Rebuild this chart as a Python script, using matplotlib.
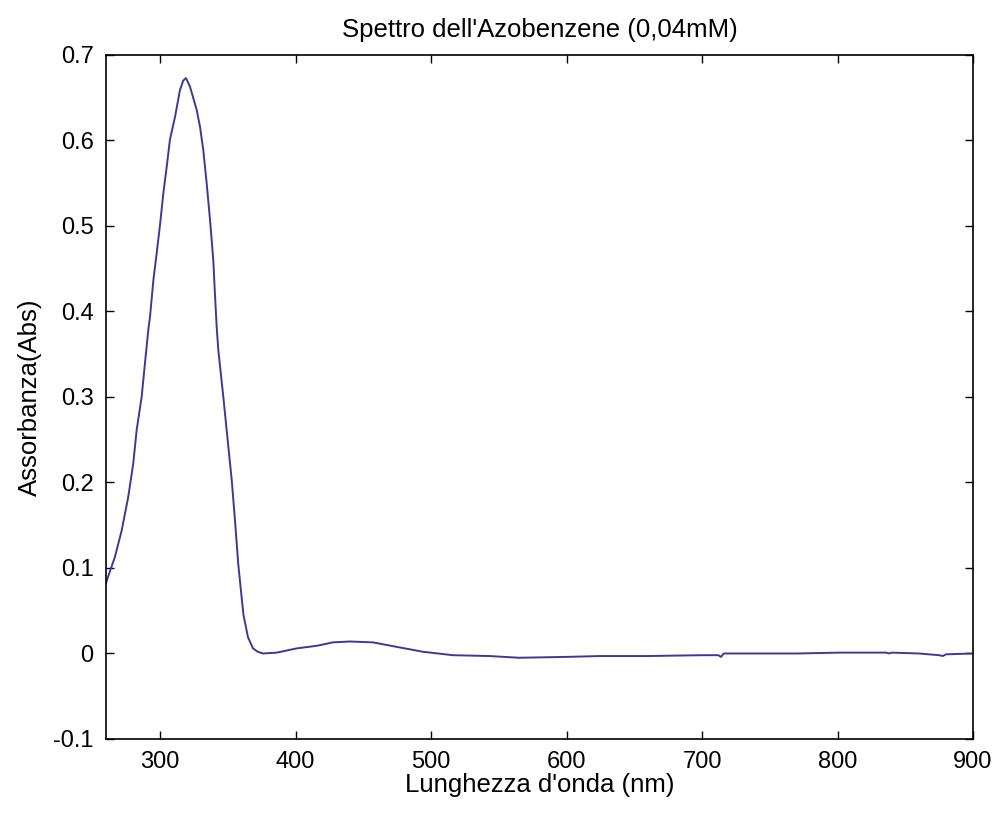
import matplotlib.pyplot as plt

# Absorbance spectrum
wavelength = [260, 260.5, 266.6, 271.6, 276.4, 280.1, 282.6, 286.3, 288.8, 291.2,
              292.5, 295, 297.4, 300, 302.3, 304.8, 307.2, 311, 314.6, 317, 319,
              322, 326.9, 329.4, 331.8, 334.3, 336.8, 339.2, 340.4, 341.7, 342.9,
              346.6, 350.3, 352.8, 355.2, 357.6, 360.1, 361.5, 364.8, 368.5, 372,
              375.9, 386, 401, 415.7, 427.5, 440, 457, 477, 494, 516, 543, 565,
              600, 624.6, 660, 700, 712, 714, 716, 740, 770, 801.7, 836, 838, 840,
              860, 875, 877.7, 880, 900]
absorbance = [0.082, 0.085, 0.113, 0.144, 0.183, 0.222, 0.261, 0.30, 0.34, 0.378,
              0.394, 0.437, 0.468, 0.503, 0.538, 0.569, 0.601, 0.628, 0.659, 0.670, 0.673,
              0.663, 0.636, 0.616, 0.589, 0.55, 0.507, 0.46, 0.421, 0.382, 0.355,
              0.30, 0.242, 0.203, 0.156, 0.105, 0.066, 0.045, 0.019, 0.006, 0.002,
              0.0, 0.001, 0.006, 0.009, 0.013, 0.014, 0.013, 0.007, 0.002, -0.002, -0.003, -0.005,
              -0.004, -0.003, -0.003, -0.002, -0.002, -0.004, 0.0, 0.0, 0.0, 0.001, 0.001, 0.0, 0.001,
              0.0, -0.002, -0.003, -0.001, 0.0]

x_ticks = [300, 400, 500, 600, 700, 800, 900]
y_ticks = [-0.1, 0, 0.1, 0.2, 0.3, 0.4, 0.5, 0.6, 0.7]
y_labels = ['-0.1', '0', '0.1', '0.2', '0.3', '0.4', '0.5', '0.6', '0.7']

plt.rcParams['font.family'] = ['Liberation Sans', 'DejaVu Sans']

fig = plt.figure(figsize=(10, 8.17), dpi=100)
ax = fig.add_axes([0.106, 0.0955, 0.867, 0.8372])
ax.plot(wavelength, absorbance, color='#3b3b8f', linewidth=1.4)

ax.set_xlim(260, 900)
ax.set_ylim(-0.1, 0.7)
ax.set_xticks(x_ticks)
ax.set_yticks(y_ticks)
ax.set_yticklabels(y_labels)
ax.tick_params(direction='in', top=True, right=True, length=6, width=1,
               labelsize=17, pad=9)
for spine in ax.spines.values():
    spine.set_linewidth(1.2)

ax.set_title("Spettro dell'Azobenzene (0,04mM)", fontsize=18.5, pad=13)
ax.set_xlabel("Lunghezza d'onda (nm)", fontsize=18.5, labelpad=0)
ax.set_ylabel('Assorbanza(Abs)', fontsize=18.5, labelpad=8)

plt.savefig('out.png', dpi=100)
